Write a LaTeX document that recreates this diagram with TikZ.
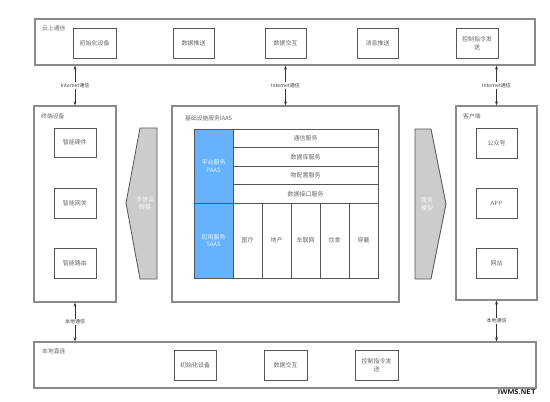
\documentclass[tikz,border=0pt]{standalone}
\usepackage{fontspec}
\setmainfont{Noto Sans CJK SC}
\usetikzlibrary{arrows.meta}
\definecolor{outerc}{HTML}{8A8A8A}
\definecolor{innerc}{HTML}{555555}
\definecolor{txtc}{HTML}{666666}
\definecolor{bluec}{HTML}{66B2FF}
\definecolor{grayfill}{HTML}{CCCCCC}
\tikzset{
  outerbox/.style={draw=outerc, line width=1.3pt, fill=white, inner sep=0pt},
  innerbox/.style={draw=innerc, line width=0.8pt, fill=white, text=txtc, inner sep=0pt, align=center, font=\fontsize{6}{7.5}\selectfont},
  bluebox/.style={draw=innerc, line width=0.8pt, fill=bluec, text=white!85!bluec, inner sep=0pt, align=center, font=\fontsize{6}{7.5}\selectfont},
  cell/.style={draw=innerc, line width=0.8pt, fill=white, text=txtc, inner sep=0pt, align=center, font=\fontsize{6}{7.5}\selectfont},
  title/.style={text=txtc, anchor=west, inner sep=0pt, font=\fontsize{5.8}{7}\selectfont},
  conn/.style={{Stealth[length=4pt,width=3pt]}-{Stealth[length=4pt,width=3pt]}, draw=black!80, line width=0.7pt},
  connlabel/.style={fill=white, text=black!75, inner sep=1pt, font=\fontsize{5}{6}\selectfont},
  arrowshape/.style={draw=innerc, line width=0.8pt, fill=grayfill},
  arrowtext/.style={text=white!90!grayfill, align=center, inner sep=0pt, font=\fontsize{6}{7.5}\selectfont}
}
\begin{document}
\begin{tikzpicture}[x=1pt,y=-1pt]
\useasboundingbox[fill=white] (0,0) rectangle (550,402);

% cloud communication
\node[outerbox, minimum width=500, minimum height=46] (cloud) at (285,42) {};
\node[title] (cloudt) at (42,28) {云上通信};
\node[innerbox, minimum width=43, minimum height=30] (c1) at (94.5,43) {初始化设备};
\node[innerbox, minimum width=41, minimum height=30] (c2) at (193.5,43) {数据推送};
\node[innerbox, minimum width=41, minimum height=30] (c3) at (285.5,43) {数据交互};
\node[innerbox, minimum width=41, minimum height=30] (c4) at (377.5,43) {消息推送};
\node[innerbox, minimum width=42, minimum height=30] (c5) at (477,43) {控制指令发\\送};

% terminal devices
\node[outerbox, minimum width=82, minimum height=196] (term) at (75,204) {};
\node[title] (termt) at (41,116) {终端设备};
\node[innerbox, minimum width=42, minimum height=29] (t1) at (75,142.5) {智能硬件};
\node[innerbox, minimum width=42, minimum height=30] (t2) at (75,203) {智能网关};
\node[innerbox, minimum width=42, minimum height=30] (t3) at (75,263) {智能路由};

% protocol conversion shape
\draw[arrowshape] (140,128) -- (157,128) -- (157,279) -- (140,279) -- (126,203) -- cycle;
\node[arrowtext] (conv) at (145,203) {多协议\\转换};

% IaaS
\node[outerbox, minimum width=227, minimum height=196] (iaas) at (285.5,204) {};
\node[title] (iaast) at (185,118) {基础设施服务IAAS};
\node[bluebox, minimum width=39, minimum height=74] (paas) at (213.5,166) {平台服务\\PAAS};
\node[bluebox, minimum width=39, minimum height=75] (saas) at (213.5,240.5) {应用服务\\SAAS};
\node[cell, minimum width=145, minimum height=18.5] (r1) at (305.5,138.25) {通信服务};
\node[cell, minimum width=145, minimum height=18.5] (r2) at (305.5,156.75) {数据库服务};
\node[cell, minimum width=145, minimum height=18.5] (r3) at (305.5,175.25) {物配置服务};
\node[cell, minimum width=145, minimum height=18.5] (r4) at (305.5,193.75) {数据接口服务};
\node[cell, minimum width=29, minimum height=75] (s1) at (247.5,240.5) {医疗};
\node[cell, minimum width=29, minimum height=75] (s2) at (276.5,240.5) {地产};
\node[cell, minimum width=29, minimum height=75] (s3) at (305.5,240.5) {车联网};
\node[cell, minimum width=29, minimum height=75] (s4) at (334.5,240.5) {饮食};
\node[cell, minimum width=29, minimum height=75] (s5) at (363.5,240.5) {穿戴};

% service model shape
\draw[arrowshape] (415,129) -- (431,129) -- (446,204) -- (431,279) -- (415,279) -- cycle;
\node[arrowtext] (model) at (427,204) {服务\\模型};

% client
\node[outerbox, minimum width=81, minimum height=194] (client) at (496.5,203) {};
\node[title] (clientt) at (463,116) {客户端};
\node[innerbox, minimum width=41, minimum height=30] (k1) at (496.5,143) {公众号};
\node[innerbox, minimum width=41, minimum height=30, font=\sffamily\fontsize{6}{7.5}\selectfont] (k2) at (496.5,203) {APP};
\node[innerbox, minimum width=41, minimum height=30] (k3) at (496.5,263) {网站};

% local direct connection
\node[outerbox, minimum width=502, minimum height=46] (local) at (285,365) {};
\node[title] (localt) at (42,351) {本地直连};
\node[innerbox, minimum width=42, minimum height=30] (l1) at (195,365) {初始化设备};
\node[innerbox, minimum width=43, minimum height=30] (l2) at (285.5,365) {数据交互};
\node[innerbox, minimum width=43, minimum height=30] (l3) at (376.5,365) {控制指令发\\送};

% connectors
\draw[conn] (term.north) -- node[connlabel] {Internet通信} (term.north |- cloud.south);
\draw[conn] (iaas.north) -- node[connlabel] {Internet通信} (iaas.north |- cloud.south);
\draw[conn] (client.north) -- node[connlabel] {Internet通信} (client.north |- cloud.south);
\draw[conn] (term.south) -- node[connlabel] {本地通信} (term.south |- local.north);
\draw[conn] (client.south) -- node[connlabel] {本地通信} (client.south |- local.north);

% watermark
\node[font=\sffamily\bfseries\fontsize{7}{8}\selectfont, text=black, inner sep=0pt] (wm) at (517,392) {IWMS.NET};
\end{tikzpicture}
\end{document}
